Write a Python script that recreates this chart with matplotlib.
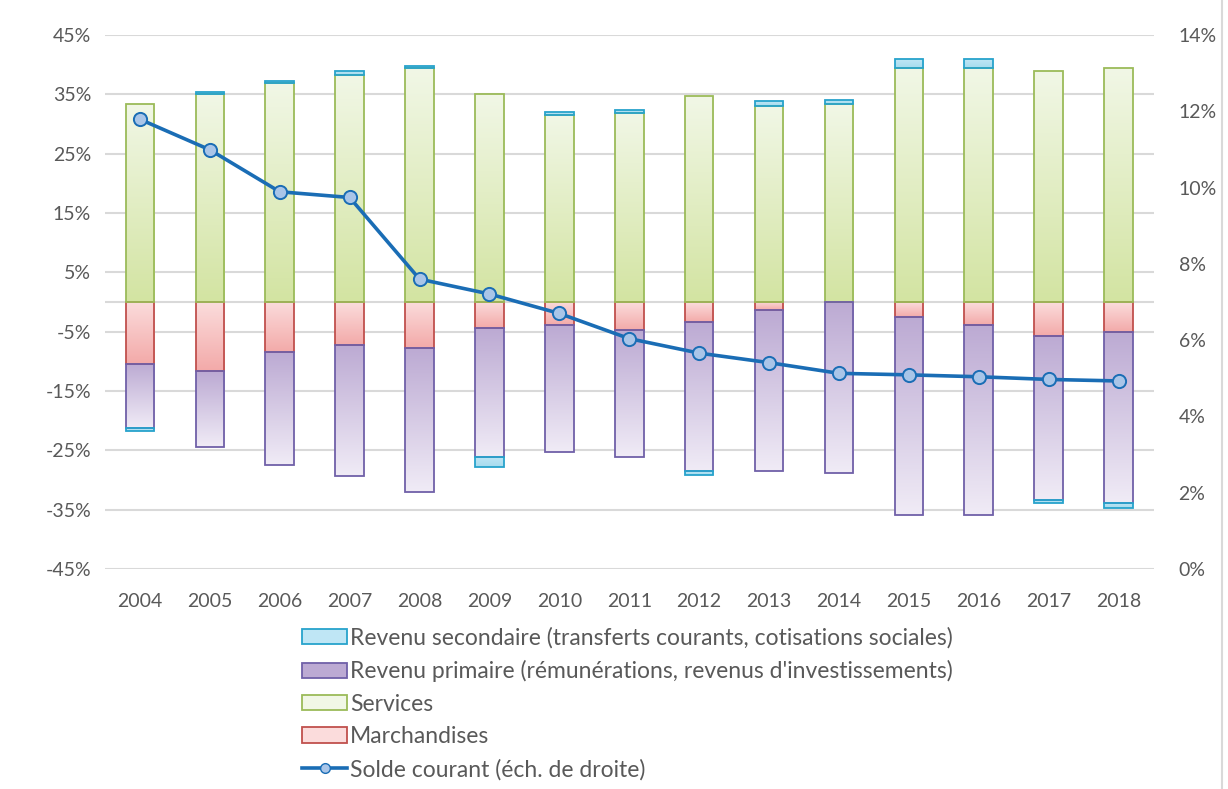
import numpy as np
import matplotlib.pyplot as plt
from matplotlib.patches import Patch
from matplotlib.lines import Line2D
from matplotlib.colors import LinearSegmentedColormap

plt.rcParams['font.family'] = ['Lato', 'DejaVu Sans']

# données (en % du PIB / des recettes courantes)
annees = ['2004', '2005', '2006', '2007', '2008', '2009', '2010', '2011',
          '2012', '2013', '2014', '2015', '2016', '2017', '2018']
marchandises = [-10.5, -11.6, -8.5, -7.2, -7.8, -4.4, -3.9, -4.7, -3.3, -1.35, 0.0, -2.5, -3.8, -5.7, -5.0]
services = [33.4, 35.0, 36.9, 38.3, 39.4, 35.0, 31.6, 31.9, 34.7, 33.0, 33.3, 39.4, 39.4, 38.9, 39.5]
revenu_primaire = [-10.8, -12.8, -19.0, -22.2, -24.3, -21.7, -21.3, -21.4, -25.2, -27.05, -28.9, -33.4, -32.1, -27.7, -28.9]
revenu_secondaire = [-0.4, 0.4, 0.4, 0.7, 0.4, -1.7, 0.5, 0.5, -0.7, 0.8, 0.7, 1.5, 1.5, -0.5, -0.9]
solde_courant = [11.79, 10.99, 9.89, 9.74, 7.60, 7.21, 6.70, 6.04, 5.66, 5.41, 5.13, 5.09, 5.04, 4.97, 4.93]

gris = '#595959'
# (haut, bas, bord) des dégradés
styles = {
    'Marchandises': ('#fbdcdc', '#f3aaa9', '#c0504d'),
    'Services': ('#f1f7e6', '#d3e4a2', '#9bbb59'),
    'Revenu primaire (rémunérations, revenus d\'investissements)': ('#bcaad3', '#f0ebf6', '#7060a8'),
    'Revenu secondaire (transferts courants, cotisations sociales)': ('#bfe6f5', '#a6dbee', '#27a3cc'),
}
series = [
    ('Marchandises', marchandises),
    ('Services', services),
    ('Revenu primaire (rémunérations, revenus d\'investissements)', revenu_primaire),
    ('Revenu secondaire (transferts courants, cotisations sociales)', revenu_secondaire),
]

fig = plt.figure(figsize=(12.28, 7.89), dpi=100)
ax = fig.add_axes([105 / 1228, 1 - 569 / 789, (1153.5 - 105) / 1228, (569 - 35) / 789])
x = np.arange(len(annees))
largeur = 0.41

pos = np.zeros(len(annees))
neg = np.zeros(len(annees))
for nom, vals in series:
    vals = np.array(vals)
    haut, bas, bord = styles[nom]
    cmap = LinearSegmentedColormap.from_list(nom, [bas, haut])
    bottoms = np.where(vals >= 0, pos, neg)
    bars = ax.bar(x, vals, bottom=bottoms, width=largeur, facecolor='none',
                  edgecolor=bord, linewidth=1.3, zorder=3)
    for b in bars:
        if b.get_height() == 0:
            continue
        x0, y0 = b.get_x(), b.get_y()
        x1, y1 = x0 + b.get_width(), y0 + b.get_height()
        grad = np.linspace(0, 1, 100).reshape(-1, 1)
        im = ax.imshow(grad, cmap=cmap, origin='lower', aspect='auto',
                       extent=[x0, x1, min(y0, y1), max(y0, y1)], zorder=2)
        im.set_clip_path(b)
    pos = pos + np.where(vals >= 0, vals, 0)
    neg = neg + np.where(vals < 0, vals, 0)

ax.set_xlim(-0.5, len(annees) - 0.5)
ax.set_ylim(-45, 45)
ax.set_yticks(np.arange(-45, 46, 10))
ax.set_yticklabels([f'{v}%' for v in range(-45, 46, 10)])
ax.set_xticks(x)
ax.set_xticklabels(annees)
ax.grid(axis='y', color='#d9d9d9', linewidth=1.5, zorder=0)
ax.axhline(0, color='#d9d9d9', linewidth=1.5, zorder=1)
ax.tick_params(axis='y', length=0, pad=10, labelsize=14, labelcolor=gris)
ax.tick_params(axis='x', length=0, pad=17, labelsize=14, labelcolor=gris)
for s in ax.spines.values():
    s.set_visible(False)

ax2 = ax.twinx()
ax2.plot(x, solde_courant, color='#1a6db5', linewidth=2.6, marker='o', markersize=9.5,
         markerfacecolor='#a9c5e8', markeredgecolor='#1a6db5', markeredgewidth=1.4, zorder=5)
ax2.set_ylim(0, 14)
ax2.set_yticks(np.arange(0, 15, 2))
ax2.set_yticklabels([f'{v}%' for v in range(0, 15, 2)])
ax2.tick_params(axis='y', length=0, pad=18, labelsize=14, labelcolor=gris)
for s in ax2.spines.values():
    s.set_visible(False)

# légende
handles = []
for nom, _ in reversed(series):
    haut, bas, bord = styles[nom]
    handles.append(Patch(facecolor=haut, edgecolor=bord, linewidth=1.3, label=nom))
handles.append(Line2D([], [], color='#1a6db5', linewidth=2.6, marker='o', markersize=7,
                      markerfacecolor='#a9c5e8', markeredgecolor='#1a6db5',
                      label='Solde courant (éch. de droite)'))
fig.legend(handles=handles, loc='upper left', bbox_to_anchor=(293 / 1228, 1 - 618 / 789),
           frameon=False, fontsize=16.5, labelcolor=gris, handlelength=1.95, handleheight=0.65,
           handletextpad=0.15, labelspacing=0.5, borderaxespad=0)

fig.add_artist(Line2D([1222 / 1228, 1222 / 1228], [0, 1], color='#d9d9d9', linewidth=1.5))

fig.savefig('out.png', dpi=100)
